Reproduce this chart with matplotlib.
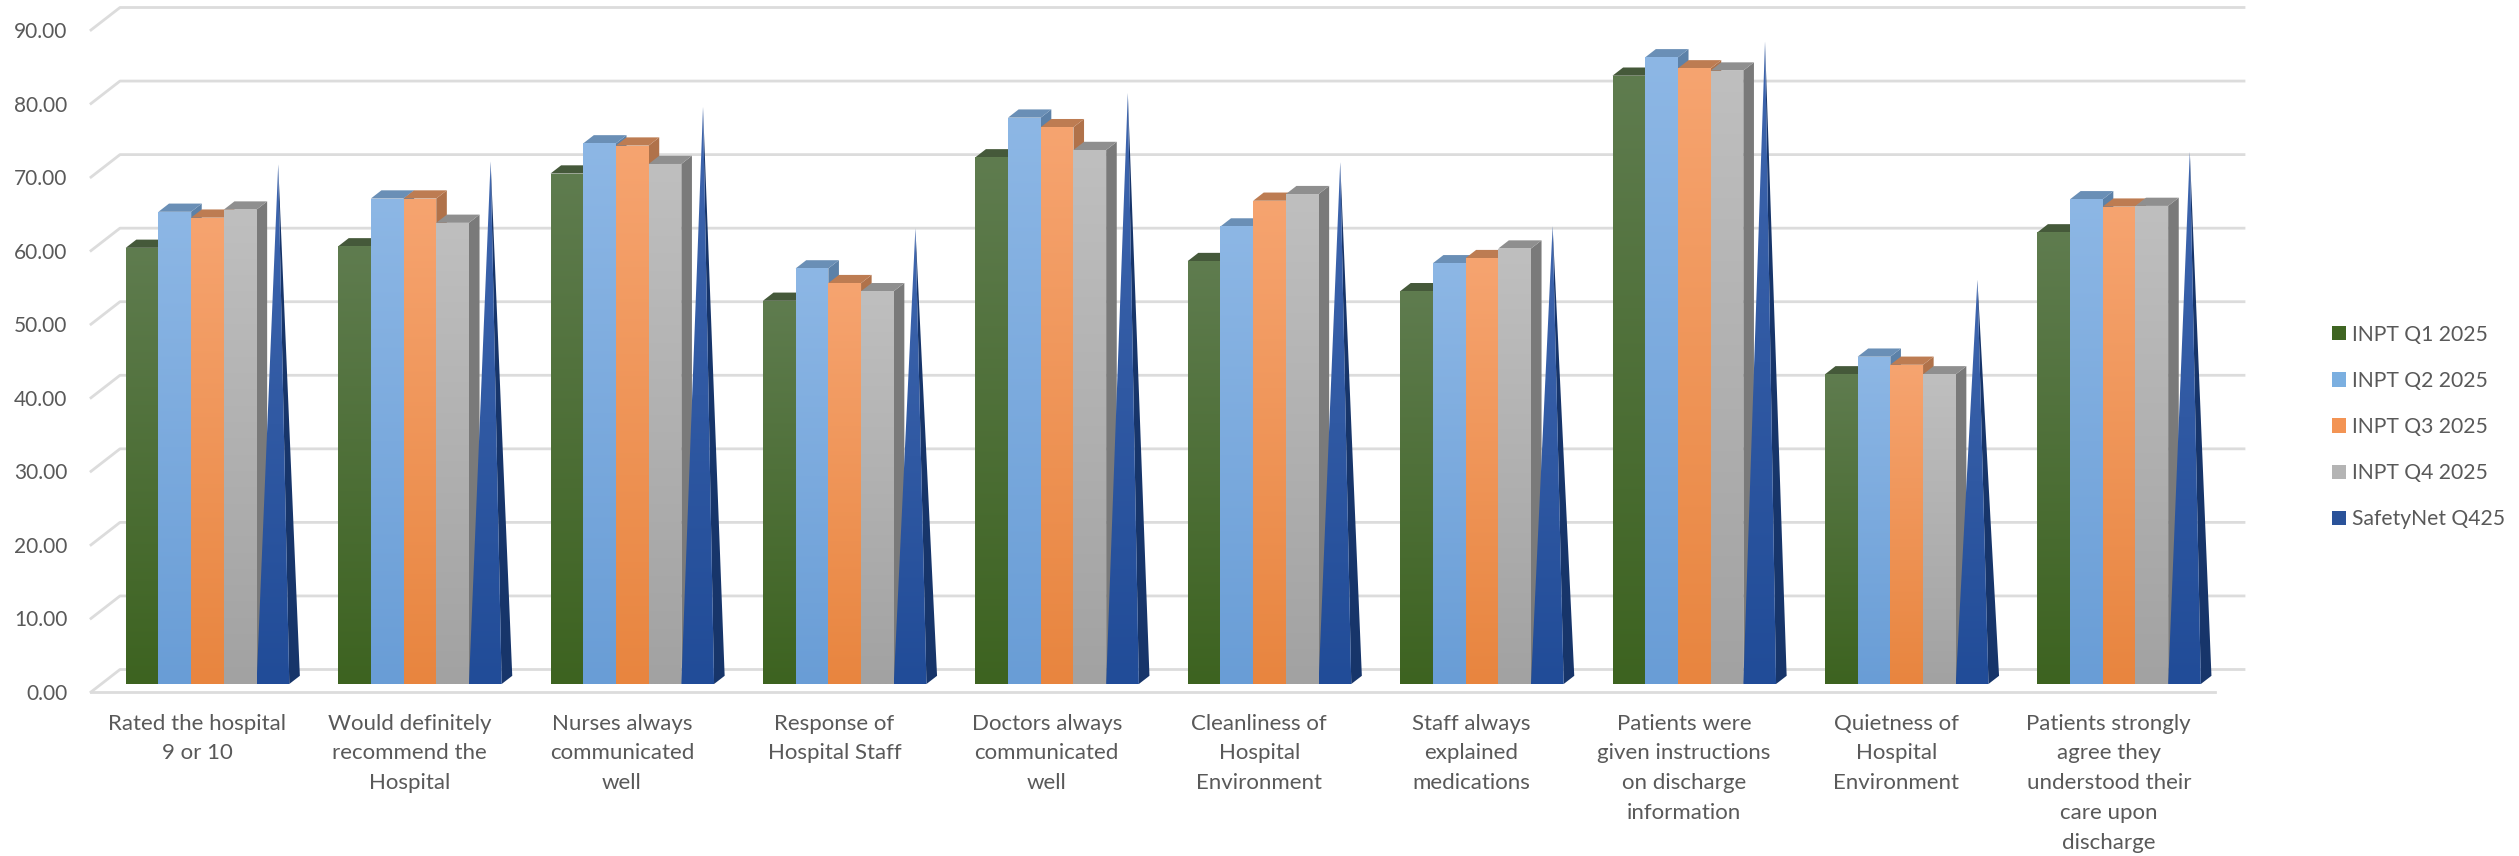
import numpy as np
import matplotlib
matplotlib.use('Agg')
import matplotlib.pyplot as plt
from matplotlib.patches import Patch, Polygon

# Survey categories
categories = [
    'Rated the hospital\n9 or 10',
    'Would definitely\nrecommend the\nHospital',
    'Nurses always\ncommunicated\nwell',
    'Response of\nHospital Staff',
    'Doctors always\ncommunicated\nwell',
    'Cleanliness of\nHospital\nEnvironment',
    'Staff always\nexplained\nmedications',
    'Patients were\ngiven instructions\non discharge\ninformation',
    'Quietness of\nHospital\nEnvironment',
    'Patients strongly\nagree they\nunderstood their\ncare upon\ndischarge',
]

# Scores per quarter
inpt_q1 = [59.3, 59.5, 69.4, 52.1, 71.6, 57.5, 53.4, 82.7, 42.1, 61.4]
inpt_q2 = [64.2, 66.0, 73.5, 56.5, 77.0, 62.2, 57.2, 85.2, 44.5, 65.9]
inpt_q3 = [63.4, 66.0, 73.2, 54.5, 75.7, 65.7, 57.9, 83.7, 43.4, 64.9]
inpt_q4 = [64.5, 62.7, 70.7, 53.4, 72.6, 66.6, 59.2, 83.4, 42.1, 65.0]
safetynet_q425 = [70.1, 70.5, 77.9, 61.4, 79.8, 70.4, 61.7, 86.8, 54.4, 71.8]

series_names = ['INPT Q1 2025', 'INPT Q2 2025', 'INPT Q3 2025', 'INPT Q4 2025', 'SafetyNet Q425']
y_ticks = [0, 10, 20, 30, 40, 50, 60, 70, 80, 90]

# (front top, front bottom, top face, side face)
bar_styles = [
    ('#5f7c4f', '#3d6320', '#45593a', '#3c5230'),
    ('#8db7e5', '#699dd6', '#6a8fb6', '#5c81a8'),
    ('#f6a470', '#e8853f', '#bd7c52', '#b0724a'),
    ('#bfbfbf', '#a2a2a2', '#8f8f8f', '#7a7a7a'),
]
cone_front = ('#3f66ae', '#214c98')
cone_side = '#17356a'
legend_colors = ['#3f6522', '#7bafe0', '#f39454', '#b4b4b4', '#2a5299']

text_color = '#595959'
grid_color = '#dcdcdc'

plt.rcParams['font.family'] = ['Lato', 'DejaVu Sans']

W, H = 2519, 856
fig = plt.figure(figsize=(W / 100, H / 100), dpi=100)

# axes box is the front plane of the 3D frame
left, right, bottom, top = 91, 2215, 692, 30
ax = fig.add_axes([left / W, 1 - bottom / H, (right - left) / W, (bottom - top) / H])
ax.set_xlim(0, 10)
ax.set_ylim(0, 90)

# depth offset of the back wall, in data units
depth_x = 29 / ((right - left) / 10)
depth_y = 22.5 / ((bottom - top) / 90)
bar_w = 0.154
bar_d0, bar_d1 = 0.355, 0.72


def proj(x, y, d):
    return (x + d * depth_x, y + d * depth_y)


def gradient_poly(verts, c_top, c_bottom, zorder):
    verts = np.array(verts)
    rgb0 = np.array(matplotlib.colors.to_rgb(c_top))
    rgb1 = np.array(matplotlib.colors.to_rgb(c_bottom))
    t = np.linspace(0, 1, 256)[:, None]
    img = (rgb0 * (1 - t) + rgb1 * t)[:, None, :]
    extent = (verts[:, 0].min(), verts[:, 0].max(), verts[:, 1].min(), verts[:, 1].max())
    im = ax.imshow(img, extent=extent, origin='upper', aspect='auto', zorder=zorder,
                   interpolation='bilinear')
    clip = Polygon(verts, closed=True, transform=ax.transData)
    im.set_clip_path(clip)


# gridlines on the back wall and side wall
for v in y_ticks:
    x0, y0 = proj(0, v, 0)
    x1, y1 = proj(0, v, 1)
    x2, y2 = proj(10, v, 1)
    ax.plot([x0, x1, x2], [y0, y1, y2], color=grid_color, lw=2, clip_on=False, zorder=1)

# front edge of the floor
ax.plot([0, 10], [0, 0], color=grid_color, lw=2, clip_on=False, zorder=1)

all_series = [inpt_q1, inpt_q2, inpt_q3, inpt_q4]
z = 2
for i in range(len(categories)):
    x_start = i + 0.5 - 2.5 * bar_w
    for s, values in enumerate(all_series):
        v = values[i]
        xa = x_start + s * bar_w
        xb = xa + bar_w
        c_top, c_bot, c_face, c_side = bar_styles[s]
        base0 = proj(xa, 0, bar_d0)
        base1 = proj(xb, 0, bar_d0)
        top0 = proj(xa, v, bar_d0)
        top1 = proj(xb, v, bar_d0)
        back0 = proj(xa, v, bar_d1)
        back1 = proj(xb, v, bar_d1)
        base_back = proj(xb, 0, bar_d1)
        # side, then top, then front so the next bar covers this one's side
        ax.add_patch(Polygon([base1, top1, back1, base_back], closed=True, fc=c_side, ec='none',
                             zorder=z, clip_on=False))
        ax.add_patch(Polygon([top0, top1, back1, back0], closed=True, fc=c_face, ec='none',
                             zorder=z + 0.1, clip_on=False))
        gradient_poly([base0, base1, top1, top0], c_top, c_bot, z + 0.2)
        z += 1

    # SafetyNet series is a pyramid
    xa = x_start + 4 * bar_w
    xb = xa + bar_w
    d_mid = (bar_d0 + bar_d1) / 2
    apex = proj(xa + bar_w / 2, safetynet_q425[i], d_mid)
    base0 = proj(xa, 0, bar_d0)
    base1 = proj(xb, 0, bar_d0)
    base_back = proj(xb, 0, bar_d1)
    ax.add_patch(Polygon([base1, base_back, apex], closed=True, fc=cone_side, ec='none',
                         zorder=z, clip_on=False))
    gradient_poly([base0, base1, apex], cone_front[0], cone_front[1], z + 0.2)
    z += 1

ax.set_xlim(0, 10)
ax.set_ylim(0, 90)

ax.set_xticks(np.arange(len(categories)) + 0.5)
ax.set_xticklabels(categories, linespacing=1.62)
ax.set_yticks(y_ticks)
ax.set_yticklabels([f'{v:.2f}' for v in y_ticks])
ax.tick_params(axis='x', length=0, pad=15.5, labelsize=16, labelcolor=text_color)
ax.tick_params(axis='y', length=0, pad=17, labelsize=15, labelcolor=text_color)
for spine in ax.spines.values():
    spine.set_visible(False)
ax.patch.set_visible(False)

handles = [Patch(facecolor=c, edgecolor='none', label=n) for c, n in zip(legend_colors, series_names)]
fig.legend(handles=handles, loc='center left', bbox_to_anchor=(2332 / W, 1 - 427 / H), frameon=False,
           fontsize=15.2, labelcolor=text_color, labelspacing=1.24, handlelength=0.66,
           handleheight=0.66, handletextpad=0.28, borderpad=0, borderaxespad=0)

fig.savefig('out.png', dpi=100, facecolor='white')
